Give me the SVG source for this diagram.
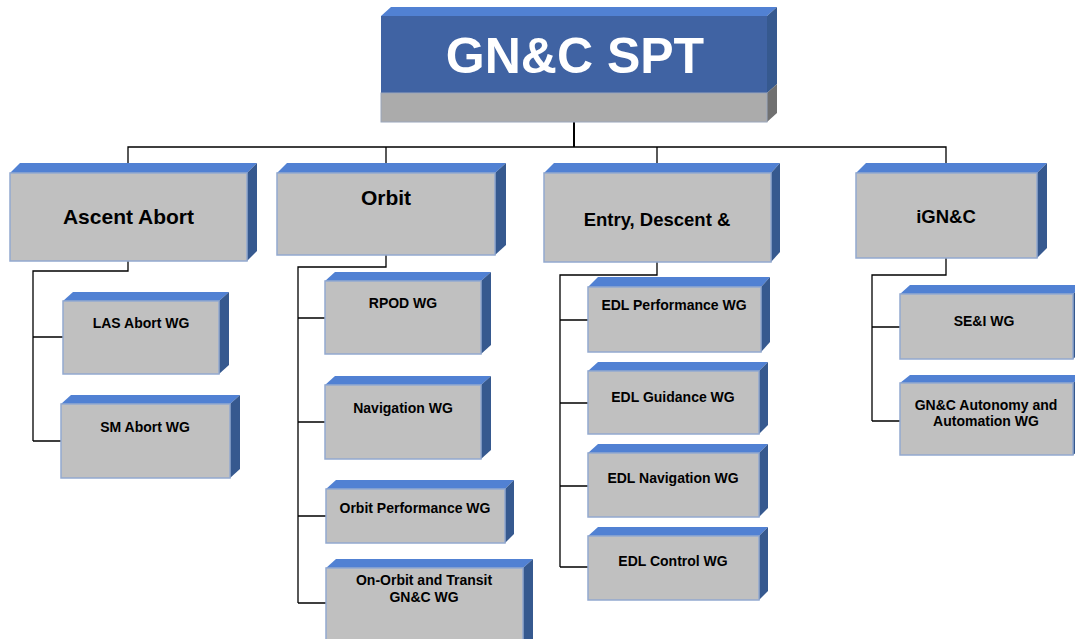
<svg xmlns="http://www.w3.org/2000/svg" width="1075" height="639" viewBox="0 0 1075 639">
<style>
.top{fill:#5181D3}
.side{fill:#36598F}
.face{fill:#C0C0C0;stroke:#93A9CF;stroke-width:1.5}
.lbl{font-family:"Liberation Sans",Arial,sans-serif;font-weight:bold;fill:#000;text-anchor:middle}
.sm{font-size:14px}
.md{font-size:21px}
.cn{fill:none;stroke:#000;stroke-width:1.3}
</style>
<rect width="1075" height="639" fill="#fff"/>
<g id="connectors">
<path class="cn" d="M574,122 V147" style="stroke-width:2"/>
<path class="cn" d="M128,173 V147 H946 V173 M386,147 V173 M657,147 V173"/>
<path class="cn" d="M128,261 V271 H33 V441 M33,337 H63 M33,441 H61"/>
<path class="cn" d="M386,255 V267 H298 V603 M298,318 H325 M298,422 H325 M298,516 H326 M298,603 H326"/>
<path class="cn" d="M657,262 V275 H560 V567 M560,320 H588 M560,403 H588 M560,486 H588 M560,567 H588"/>
<path class="cn" d="M946,258 V275 H872 V421 M872,327 H900 M872,421 H900"/>
</g>
<g id="gnc-spt">
<polygon points="381,16 391,7 777,7 767,16" class="top"/>
<polygon points="767,16 777,7 777,84 767,93" class="side"/>
<polygon points="767,93 777,84 777,113 767,122" fill="#707070"/>
<rect x="381" y="16" width="386" height="77" fill="#4063A3"/>
<rect x="381" y="93" width="386" height="29" fill="#ABABAB" stroke="#9AA6BC" stroke-width="1"/>
<text x="575" y="73" class="lbl" style="font-size:50px;fill:#fff">GN&amp;C SPT</text>
</g>
<g id="ascent-abort">
<polygon points="10,173 20,163 257,163 247,173" class="top"/>
<polygon points="247,173 257,163 257,251 247,261" class="side"/>
<rect x="10" y="173" width="237" height="88" class="face"/>
<text x="128.5" y="224" class="lbl md">Ascent Abort</text>
</g>
<g id="orbit">
<polygon points="277,173 287,163 506,163 495,173" class="top"/>
<polygon points="495,173 506,163 506,245 495,255" class="side"/>
<rect x="277" y="173" width="218" height="82" class="face"/>
<text x="386" y="205" class="lbl md">Orbit</text>
</g>
<g id="edl">
<polygon points="544,173 554,163 780,163 771,173" class="top"/>
<polygon points="771,173 780,163 780,252 771,262" class="side"/>
<rect x="544" y="173" width="227" height="89" class="face"/>
<text x="657" y="226" class="lbl" style="font-size:18.5px">Entry, Descent &amp;</text>
</g>
<g id="ignc">
<polygon points="856,173 866,163 1047,163 1037,173" class="top"/>
<polygon points="1037,173 1047,163 1047,248 1037,258" class="side"/>
<rect x="856" y="173" width="181" height="85" class="face"/>
<text x="946" y="223" class="lbl" style="font-size:18.5px">iGN&amp;C</text>
</g>
<g id="las-abort">
<polygon points="63,301 73,292 229,292 219,301" class="top"/>
<polygon points="219,301 229,292 229,365 219,374" class="side"/>
<rect x="63" y="301" width="156" height="73" class="face"/>
<text x="141" y="328" class="lbl sm">LAS Abort WG</text>
</g>
<g id="sm-abort">
<polygon points="61,404 71,395 240,395 230,404" class="top"/>
<polygon points="230,404 240,395 240,469 230,478" class="side"/>
<rect x="61" y="404" width="169" height="74" class="face"/>
<text x="145" y="432" class="lbl sm">SM Abort WG</text>
</g>
<g id="rpod">
<polygon points="325,281 335,272 491,272 481,281" class="top"/>
<polygon points="481,281 491,272 491,345 481,354" class="side"/>
<rect x="325" y="281" width="156" height="73" class="face"/>
<text x="403" y="308" class="lbl sm">RPOD WG</text>
</g>
<g id="navigation">
<polygon points="325,385 335,376 491,376 481,385" class="top"/>
<polygon points="481,385 491,376 491,450 481,459" class="side"/>
<rect x="325" y="385" width="156" height="74" class="face"/>
<text x="403" y="413" class="lbl sm">Navigation WG</text>
</g>
<g id="orbit-performance">
<polygon points="326,489 336,480 514,480 505,489" class="top"/>
<polygon points="505,489 514,480 514,534 505,543" class="side"/>
<rect x="326" y="489" width="179" height="54" class="face"/>
<text x="415" y="513" class="lbl sm">Orbit Performance WG</text>
</g>
<g id="on-orbit-transit">
<polygon points="326,568 336,559 533,559 523,568" class="top"/>
<polygon points="523,568 533,559 533,639 523,648" class="side"/>
<rect x="326" y="568" width="197" height="80" class="face"/>
<text x="424" y="585" class="lbl sm">On-Orbit and Transit</text>
<text x="424" y="602" class="lbl sm">GN&amp;C WG</text>
</g>
<g id="edl-performance">
<polygon points="588,287 598,277 770,277 761,287" class="top"/>
<polygon points="761,287 770,277 770,342 761,352" class="side"/>
<rect x="588" y="287" width="173" height="65" class="face"/>
<text x="674" y="310" class="lbl sm">EDL Performance WG</text>
</g>
<g id="edl-guidance">
<polygon points="588,371 598,362 768,362 759,371" class="top"/>
<polygon points="759,371 768,362 768,425 759,434" class="side"/>
<rect x="588" y="371" width="171" height="63" class="face"/>
<text x="673" y="402" class="lbl sm">EDL Guidance WG</text>
</g>
<g id="edl-navigation">
<polygon points="588,453 598,444 768,444 759,453" class="top"/>
<polygon points="759,453 768,444 768,508 759,517" class="side"/>
<rect x="588" y="453" width="171" height="64" class="face"/>
<text x="673" y="483" class="lbl sm">EDL Navigation WG</text>
</g>
<g id="edl-control">
<polygon points="588,536 598,527 768,527 759,536" class="top"/>
<polygon points="759,536 768,527 768,591 759,600" class="side"/>
<rect x="588" y="536" width="171" height="64" class="face"/>
<text x="673" y="566" class="lbl sm">EDL Control WG</text>
</g>
<g id="sei">
<polygon points="900,294 910,285 1083,285 1073,294" class="top"/>
<polygon points="1073,294 1083,285 1083,350 1073,359" class="side"/>
<rect x="900" y="294" width="173" height="65" class="face"/>
<text x="984" y="326" class="lbl sm">SE&amp;I WG</text>
</g>
<g id="autonomy">
<polygon points="900,383 910,375 1083,375 1073,383" class="top"/>
<polygon points="1073,383 1083,375 1083,447 1073,455" class="side"/>
<rect x="900" y="383" width="173" height="72" class="face"/>
<text x="986" y="410" class="lbl sm">GN&amp;C Autonomy and</text>
<text x="986" y="426" class="lbl sm">Automation WG</text>
</g>
</svg>
